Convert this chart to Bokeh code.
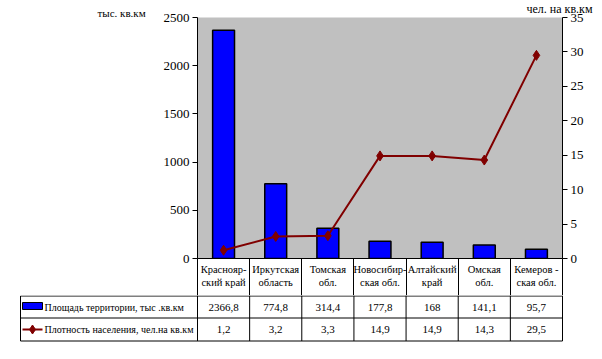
from bokeh.plotting import figure
from bokeh.models import Range1d, LinearAxis, Label, FixedTicker
from bokeh.layouts import column
from bokeh.embed import file_html
from bokeh.resources import INLINE
from bokeh.core.properties import value

# ---------------- data ----------------
categories = ["Краснояр-\nский край", "Иркутская\nобласть", "Томская\nобл.",
              "Новосибир-\nская обл.", "Алтайский\nкрай", "Омская\nобл.",
              "Кемеров -\nская обл."]
area = [2366.8, 774.8, 314.4, 177.8, 168, 141.1, 95.7]
density = [1.2, 3.2, 3.3, 14.9, 14.9, 14.3, 29.5]
area_name = "Площадь территории, тыс .кв.км"
density_name = "Плотность населения, чел.на кв.км"
left_title = "тыс. кв.км"
right_title = "чел. на кв.км"
left_ticks = [0, 500, 1000, 1500, 2000, 2500]
right_ticks = [0, 5, 10, 15, 20, 25, 30, 35]

# ---------------- layout constants ----------------
W = 600
SERIF = "Liberation Serif"
BAR_COLOR = "#0000FF"
LINE_COLOR = "#800000"
n = len(categories)
xs = [i + 0.5 for i in range(n)]
FRAME_L, FRAME_R, FRAME_T, FRAME_B = 197, 562, 17, 258
HEADER_B = 295
HEADER_H = HEADER_B - FRAME_B
colw = (FRAME_R - FRAME_L) / n


def px(xpix):
    """page x pixel -> category-axis units"""
    return (xpix - FRAME_L) / colw


fmt = lambda v: f"{v:g}".replace(".", ",")

# ---------------- top chart (with the table header as its x axis) ----------------
p = figure(width=W, height=HEADER_B, x_range=Range1d(0, n),
           y_range=Range1d(0, left_ticks[-1]),
           x_axis_location="below", y_axis_location="left",
           output_backend="svg", toolbar_location=None,
           min_border_left=FRAME_L, min_border_right=W - FRAME_R,
           min_border_top=FRAME_T, min_border_bottom=HEADER_H)
p.frame_align = False
p.background_fill_color = "#C0C0C0"
p.border_fill_color = "white"
p.outline_line_color = None
p.grid.visible = False

xax = p.xaxis[0]
xax.ticker = FixedTicker(ticks=xs, minor_ticks=list(range(n + 1)))
xax.major_label_overrides = {x: c for x, c in zip(xs, categories)}
xax.major_tick_in = 0
xax.major_tick_out = 0
xax.minor_tick_in = 0
xax.minor_tick_out = HEADER_H
xax.minor_tick_line_color = "black"
xax.axis_line_color = "black"
xax.major_label_text_font = SERIF
xax.major_label_text_font_size = "10.5px"
xax.major_label_text_color = "black"
xax.major_label_text_line_height = 1.25
xax.major_label_standoff = 5 - HEADER_H

ax = p.yaxis[0]
ax.ticker = FixedTicker(ticks=left_ticks)
p.extra_y_ranges = {"dens": Range1d(0, right_ticks[-1])}
ax2 = LinearAxis(y_range_name="dens", ticker=FixedTicker(ticks=right_ticks))
p.add_layout(ax2, "right")
for a in (ax, ax2):
    a.major_tick_in = 0
    a.major_tick_out = 5
    a.minor_tick_line_color = None
    a.axis_line_color = "black"
    a.major_tick_line_color = "black"
    a.major_label_text_font = SERIF
    a.major_label_text_font_size = "13px"
    a.major_label_text_color = "black"
    a.major_label_standoff = 3

p.vbar(x=xs, top=area, width=0.42, fill_color=BAR_COLOR,
       line_color="black", line_width=1.5)
p.line(xs, density, y_range_name="dens", line_color=LINE_COLOR, line_width=2)
p.scatter(xs, density, y_range_name="dens", marker="diamond", size=10,
          fill_color=LINE_COLOR, line_color=LINE_COLOR)

ypp = left_ticks[-1] / (FRAME_B - FRAME_T)   # data units per pixel
p.add_layout(Label(x=px(97), y=left_ticks[-1] + 5 * ypp, text=left_title,
                   text_font=SERIF, text_font_size="11px",
                   text_baseline="middle", text_color="black"), "left")
p.add_layout(Label(x=px(526), y=left_ticks[-1] + 9 * ypp, text=right_title,
                   text_font=SERIF, text_font_size="12px",
                   text_baseline="middle", text_color="black"), "above")

# ---------------- data table rows ----------------
T_BOT = 351
t = figure(width=W, height=T_BOT - HEADER_B,
           x_range=Range1d(px(18), px(564)), y_range=Range1d(T_BOT, HEADER_B),
           x_axis_location=None, y_axis_location=None,
           output_backend="svg", toolbar_location=None,
           min_border_left=18, min_border_right=W - 564,
           min_border_top=0, min_border_bottom=0)
t.frame_align = False
t.outline_line_color = None
t.grid.visible = False
t.background_fill_color = "white"

Y1, Y2, Y3 = HEADER_B + 0.5, 317.5, 340.5
t.segment(x0=[px(20)] * 3, x1=[n] * 3,
          y0=[Y1, Y2, Y3], y1=[Y1, Y2, Y3], line_color="black", line_width=1)
t.segment(x0=list(range(n + 1)) + [px(20)], x1=list(range(n + 1)) + [px(20)],
          y0=[HEADER_B] * (n + 1) + [Y1], y1=[Y3] * (n + 2),
          line_color="black", line_width=1)

t.text(x=xs, y=[(Y1 + Y2) / 2] * n, text=[fmt(v) for v in area],
       text_font=value(SERIF), text_font_size="11px", text_align="center",
       text_baseline="middle", text_color="black")
t.text(x=xs, y=[(Y2 + Y3) / 2] * n, text=[fmt(v) for v in density],
       text_font=value(SERIF), text_font_size="11px", text_align="center",
       text_baseline="middle", text_color="black")

t.quad(left=[px(22)], right=[px(42)], bottom=[309], top=[302],
       fill_color=BAR_COLOR, line_color="black", line_width=1)
t.line([px(22), px(42)], [(Y2 + Y3) / 2] * 2, line_color=LINE_COLOR, line_width=2)
t.scatter([px(32)], [(Y2 + Y3) / 2], marker="diamond", size=9,
          fill_color=LINE_COLOR, line_color=LINE_COLOR)
t.text(x=[px(44), px(44)], y=[(Y1 + Y2) / 2, (Y2 + Y3) / 2],
       text=[area_name, density_name], text_font=value(SERIF),
       text_font_size="10px", text_baseline="middle", text_color="black")

layout = column(p, t, spacing=0)
open("out.html", "w").write(file_html(layout, INLINE))
